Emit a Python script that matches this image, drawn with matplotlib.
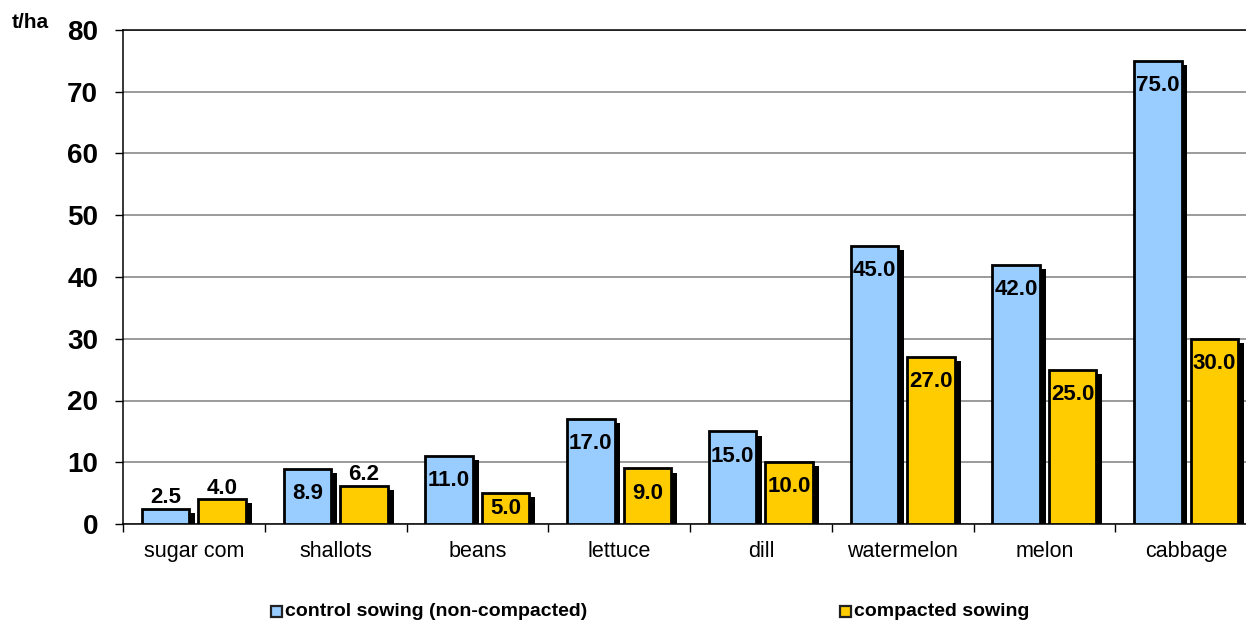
import numpy as np
import matplotlib
matplotlib.use("Agg")
import matplotlib.pyplot as plt
import matplotlib.patheffects as pe
from matplotlib.patches import Rectangle

plt.rcParams["font.family"] = ["Liberation Sans", "DejaVu Sans"]

crops = ["sugar com", "shallots", "beans", "lettuce", "dill",
         "watermelon", "melon", "cabbage"]
control = [2.5, 8.9, 11.0, 17.0, 15.0, 45.0, 42.0, 75.0]
compacted = [4.0, 6.2, 5.0, 9.0, 10.0, 27.0, 25.0, 30.0]
series_names = ["control sowing (non-compacted)", "compacted sowing"]
yticks = [0, 10, 20, 30, 40, 50, 60, 70, 80]

# labels drawn above the bar instead of inside it
control_above = [True] + [False] * 7
compacted_above = [True, True] + [False] * 6

BLUE = "#99CCFF"
GOLD = "#FFCC00"

fig = plt.figure(figsize=(12.46, 6.22), dpi=100)
ax = fig.add_axes([123 / 1246, 98 / 622, 1134 / 1246, 494 / 622])

x = np.arange(len(crops))
w = 0.335
shadow = [pe.SimplePatchShadow(offset=(4.3, -3.0), shadow_rgbFace="black",
                               alpha=1.0), pe.Normal()]

for vals, above, off, color in [(control, control_above, -0.2, BLUE),
                                (compacted, compacted_above, 0.2, GOLD)]:
    bars = ax.bar(x + off, vals, width=w, color=color, edgecolor="black",
                  linewidth=2.0, zorder=3)
    for b in bars:
        b.set_path_effects(shadow)
    for xi, v, up in zip(x + off, vals, above):
        if up:
            ax.annotate(f"{v:.1f}", (xi, v), xytext=(0, 0.5),
                        textcoords="offset points", ha="center", va="bottom",
                        fontsize=16, fontweight="bold", zorder=5)
        else:
            ax.text(xi, max(v - 4.0, v / 2), f"{v:.1f}", ha="center",
                    va="center", fontsize=16, fontweight="bold", zorder=5)

ax.set_xlim(-0.5, len(crops) - 0.5)
ax.set_ylim(0, 80)
ax.set_yticks(yticks)
ax.set_yticklabels([str(t) for t in yticks], fontsize=20, fontweight="bold")
ax.yaxis.grid(True, color="#808080", linewidth=1.1, zorder=0)
ax.tick_params(axis="y", length=6, width=1, pad=12)

ax.set_xticks(np.arange(len(crops) + 1) - 0.5)
ax.set_xticklabels([])
ax.set_xticks(x, minor=True)
ax.set_xticklabels(crops, minor=True, fontsize=15.5)
ax.tick_params(axis="x", which="major", length=6, width=1, direction="out")
ax.tick_params(axis="x", which="minor", length=0, pad=12)

ax.spines["right"].set_visible(False)
ax.spines["top"].set_color("black")
for s in ["left", "bottom", "top"]:
    ax.spines[s].set_linewidth(1.1)

fig.text(12 / 1246, 1 - 22 / 622, "t/ha", fontsize=15, fontweight="bold",
         va="center", ha="left")

# legend along the bottom
for name, color, mx in zip(series_names, [BLUE, GOLD], [271, 840]):
    fig.patches.append(Rectangle((mx / 1246, 1 - 617 / 622), 11 / 1246,
                                 11 / 622, transform=fig.transFigure,
                                 facecolor=color, edgecolor="#222222",
                                 linewidth=1.6))
    fig.text((mx + 14) / 1246, 1 - 611 / 622, name, fontsize=14,
             fontweight="bold", va="center", ha="left")

fig.savefig("out.png", dpi=100)
